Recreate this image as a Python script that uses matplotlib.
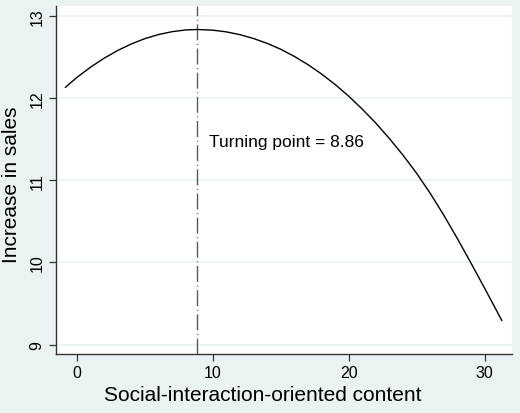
import matplotlib
matplotlib.use("Agg")
import matplotlib.pyplot as plt

# values
content = [-0.86, 0, 1, 2, 3, 4, 5, 6, 7, 8, 8.86, 10, 11, 12, 13, 14, 15, 16,
           17, 18, 19, 20, 21, 22, 23, 24, 25, 26, 27, 28, 29, 30, 31, 31.27]
sales = [12.134, 12.256, 12.380, 12.489, 12.583, 12.662, 12.727, 12.776, 12.811,
         12.832, 12.837, 12.829, 12.808, 12.774, 12.727, 12.668, 12.596, 12.509,
         12.409, 12.295, 12.167, 12.025, 11.867, 11.696, 11.508, 11.306, 11.086,
         10.842, 10.576, 10.291, 9.993, 9.688, 9.378, 9.294]
turning_point = 8.86
xticks = [0, 10, 20, 30]
yticks = [9, 10, 11, 12, 13]

plt.rcParams['font.family'] = ['Liberation Sans', 'DejaVu Sans']
plt.rcParams['lines.scale_dashes'] = False

bg = '#EAF2F3'
fig = plt.figure(figsize=(5.2, 4.14), dpi=100, facecolor=bg)
ax = fig.add_axes([0.1071, 0.1418, 0.8769, 0.8406])
ax.set_facecolor('white')

for y in yticks:
    ax.axhline(y, color=bg, lw=1.2, zorder=0)

ax.plot(content, sales, color='black', lw=1.0, zorder=3)
ax.axvline(turning_point, color='#5a5a5a', lw=1.0, dashes=(11.5, 2.6, 0.7, 2.6), zorder=2)
ax.text(9.7, 11.47, 'Turning point = %.2f' % turning_point, ha='left', va='center',
        fontsize=12.5, color='black')

ax.set_xlim(-1.58, 32.0)
ax.set_ylim(8.881, 13.12)
ax.set_xticks(xticks)
ax.set_yticks(yticks)
ax.tick_params(axis='both', direction='out', length=5, width=0.9, color='#333333',
               labelsize=11.5, pad=3)
for lab in ax.get_yticklabels():
    lab.set_rotation(90)
    lab.set_va('center')

for s in ['top', 'right']:
    ax.spines[s].set_visible(False)
for s in ['left', 'bottom']:
    ax.spines[s].set_color('#333333')
    ax.spines[s].set_linewidth(1.0)

ax.set_xlabel('Social-interaction-oriented content', fontsize=15)
ax.xaxis.set_label_coords(0.4535, -0.088)
ax.set_ylabel('Increase in sales', fontsize=15)
ax.yaxis.set_label_coords(-0.076, 0.489)

fig.savefig('out.png', dpi=100, facecolor=bg)
